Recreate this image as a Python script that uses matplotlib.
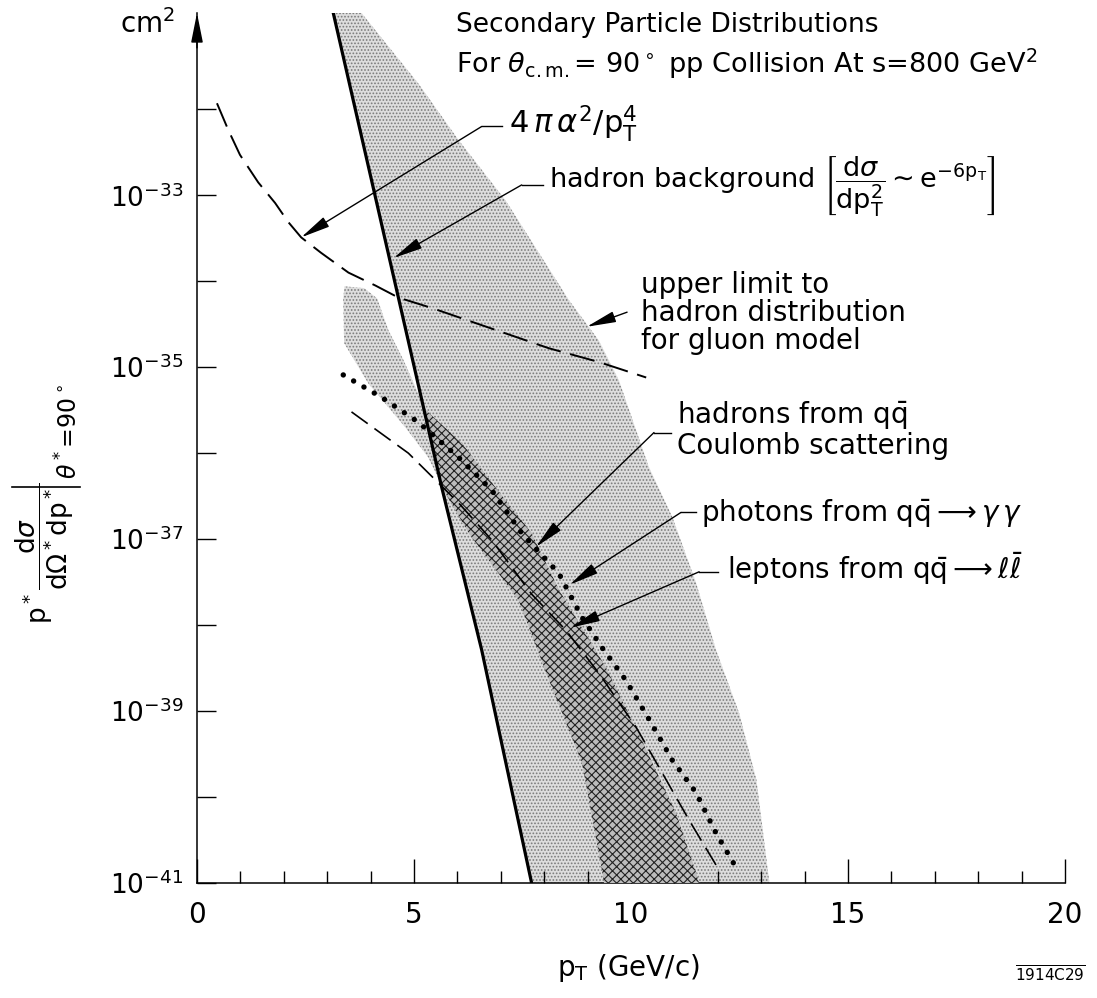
import matplotlib
matplotlib.use('Agg')
import matplotlib.pyplot as plt
import numpy as np
from matplotlib.lines import Line2D
from matplotlib.patches import Polygon
from matplotlib.ticker import FixedLocator, FixedFormatter, MultipleLocator

plt.rcParams['font.family'] = ['DejaVu Sans']
plt.rcParams['mathtext.fontset'] = 'dejavusans'
plt.rcParams['hatch.linewidth'] = 0.8

# ---- curves: p_T in GeV/c, cross section as log10(cm^2) ----
# 4 pi alpha^2 / p_T^4 (long dashes)
point_pt = [0.46, 0.72, 0.99, 1.41, 1.80, 2.10, 2.40, 2.86, 3.49, 4.11, 4.64, 5.40, 6.61,
            8.11, 9.26, 10.35]
point_log = [-31.93, -32.24, -32.53, -32.85, -33.09, -33.31, -33.49, -33.67, -33.90, -34.05,
             -34.19, -34.31, -34.52, -34.78, -34.94, -35.12]

# hadron background ~ exp(-6 p_T) (solid)
bkg_pt = [3.14, 4.06, 4.64, 5.64, 6.56, 7.71]
bkg_log = [-30.88, -32.91, -34.19, -36.40, -38.29, -41.0]

# photons from q qbar -> gamma gamma (dotted)
phot_pt = [3.37, 4.25, 5.10, 6.03, 6.79, 7.48, 8.34, 8.87, 9.33, 9.88, 10.42, 10.95, 11.50, 11.96, 12.49]
phot_log = [-35.09, -35.35, -35.64, -36.05, -36.43, -36.93, -37.40, -37.91, -38.26, -38.64,
            -39.10, -39.57, -39.95, -40.42, -40.88]

# leptons from q qbar -> l lbar (short dashes)
lep_pt = [3.56, 4.87, 6.03, 6.79, 7.71, 8.50, 9.26, 10.12, 10.72, 11.34, 12.03]
lep_log = [-35.52, -36.00, -36.58, -37.01, -37.64, -38.06, -38.56, -39.19, -39.72, -40.27, -40.85]

# upper limit for gluon model: band between background line and this edge
gluon_hi_pt = [3.79, 5.10, 6.03, 7.11, 8.57, 9.26, 9.72, 10.41, 10.95, 11.50, 11.96, 12.49, 12.89, 13.19]
gluon_hi_log = [-30.88, -31.70, -32.36, -33.06, -34.22, -34.69, -35.15, -36.16, -36.74, -37.51,
                -38.29, -39.02, -39.80, -41.0]

# hadrons from q qbar Coulomb scattering: lower / upper edges
qq_lo_pt = [3.40, 3.37, 3.39, 3.95, 4.80, 5.33, 5.73, 6.26, 6.95, 7.41, 8.11, 8.87, 9.33, 9.38]
qq_lo_log = [-34.06, -34.20, -34.72, -35.19, -35.70, -36.05, -36.47, -36.93, -37.40, -37.71,
             -38.64, -39.60, -40.85, -41.0]
qq_hi_pt = [3.85, 4.15, 4.41, 4.76, 5.27, 6.10, 6.88, 7.71, 8.34, 9.42, 10.25, 11.04, 11.50, 11.57]
qq_hi_log = [-34.08, -34.20, -34.57, -34.92, -35.50, -35.88, -36.40, -36.93, -37.59, -38.49,
             -39.34, -40.19, -40.88, -41.0]

ytick_exp = list(range(-41, -31))
xticks = [0, 5, 10, 15, 20]


def cs(v):
    return 10.0 ** np.asarray(v)


W, H = 1097, 998
fig = plt.figure(figsize=(W / 100, H / 100), dpi=100)
ax = fig.add_axes([197 / W, (H - 883) / H, (1065 - 197) / W, (883 - 13) / H])
ax.set_yscale('log')
ax.set_xlim(0, 20)
ax.set_ylim(1e-41, 10 ** -30.88)

# bands
gluon_xy = np.column_stack([bkg_pt + gluon_hi_pt[::-1], cs(bkg_log + gluon_hi_log[::-1])])
gluon = Polygon(gluon_xy, closed=True, facecolor='#dddddd', edgecolor='#7a7a7a',
                hatch='.....', lw=0, zorder=1)
ax.add_patch(gluon)

qq_xy = np.column_stack([qq_lo_pt + qq_hi_pt[::-1], cs(qq_lo_log + qq_hi_log[::-1])])
qq = Polygon(qq_xy, closed=True, facecolor='#dddddd', edgecolor='#7a7a7a',
             hatch='.....', lw=0, zorder=2)
ax.add_patch(qq)
overlap = Polygon(qq_xy, closed=True, facecolor='#bcbcbc', edgecolor='#222222',
                  hatch='xxxx', lw=0, zorder=3)
ax.add_patch(overlap)
overlap.set_clip_path(gluon)

# curves
ax.plot(bkg_pt, cs(bkg_log), color='k', lw=2.3, zorder=5)
ax.plot(point_pt, cs(point_log), color='k', lw=1.4, ls=(0, (13, 5)), zorder=5)
ax.plot(lep_pt, cs(lep_log), color='k', lw=1.2, ls=(0, (12, 5)), zorder=5)
ax.plot(phot_pt, cs(phot_log), color='k', lw=3.9, ls=(0, (0.01, 2.2)),
        dash_capstyle='round', zorder=6)

# axes
for s in ('top', 'right'):
    ax.spines[s].set_visible(False)
for s in ('left', 'bottom'):
    ax.spines[s].set_linewidth(1.1)
ax.annotate('', xy=(0, 1.0), xytext=(0, 0.96), xycoords='axes fraction',
            arrowprops=dict(arrowstyle='-|>,head_length=1.0,head_width=0.2', lw=1.1,
                            color='k', shrinkA=0, shrinkB=0, mutation_scale=18))

ax.yaxis.set_major_locator(FixedLocator(cs(ytick_exp)))
ax.yaxis.set_minor_locator(FixedLocator([]))
ax.yaxis.set_major_formatter(FixedFormatter(
    [r'$10^{%d}$' % e if e % 2 else '' for e in ytick_exp]))
ax.xaxis.set_major_locator(FixedLocator(xticks))
ax.xaxis.set_minor_locator(MultipleLocator(1))
ax.xaxis.set_major_formatter(FixedFormatter([str(t) for t in xticks]))
ax.tick_params(axis='y', which='major', direction='in', length=14, width=1, pad=10, labelsize=19)
ax.tick_params(axis='x', which='major', direction='in', length=17, width=1, pad=13, labelsize=20)
ax.tick_params(axis='x', which='minor', direction='in', length=9, width=1)

ax.set_xlabel(r'p$_\mathrm{T}$ (GeV/c)', fontsize=20)
ax.xaxis.set_label_coords(0.497, -0.098)
ax.xaxis.label.set_va('center')

# y label: p* dsigma/(dOmega* dp*) evaluated at theta* = 90 deg
ax.set_ylabel(r'$\mathrm{p}^*\dfrac{\mathrm{d}\sigma}{\mathrm{d}\Omega^*\mathrm{dp}^*}$', fontsize=19)
ax.yaxis.set_label_coords((45 - 197) / 868, (883 - 553) / 870)
ax.yaxis.label.set_va('center')
fig.add_artist(Line2D([12 / W, 80 / W], [1 - 487 / H] * 2, transform=fig.transFigure,
                      color='k', lw=1.2))
fig.text(69 / W, 1 - 432 / H, r'$\theta^*$=90$^\circ$', fontsize=17, rotation=90,
         ha='center', va='center')

fig.text(175 / W, 1 - 24 / H, r'cm$^2$', fontsize=20, ha='right', va='center')
fig.text(1050 / W, 1 - 975 / H, r'$\overline{\mathrm{1914C29}}$', fontsize=11, ha='center', va='center')

# title
ax.text(5.96, 10 ** -31.02, 'Secondary Particle Distributions', fontsize=19, va='center')
ax.text(5.96, 10 ** -31.47,
        r'For $\theta_{\mathrm{c.m.}}$= 90$^\circ$ pp Collision At s=800 GeV$^2$',
        fontsize=19.5, va='center')

arrow_kw = dict(arrowstyle='-|>,head_length=0.9,head_width=0.17', lw=1.0, color='k',
                shrinkA=0, shrinkB=0, mutation_scale=20)


def leader(text, tx, ty, ex, ey, px, py, hx=None, **kw):
    """Label at (tx, ty) with a leader from elbow (ex, ey) to the tip (px, py)."""
    ax.text(tx, 10 ** ty, text, va='center', zorder=8, **kw)
    if hx is not None:
        ax.plot([ex, hx], cs([ey, ey]), color='k', lw=1.0, zorder=7)
    ax.annotate('', xy=(px, 10 ** py), xytext=(ex, 10 ** ey),
                arrowprops=arrow_kw, zorder=7)


leader(r'$4\,\pi\,\alpha^2/\mathrm{p}_\mathrm{T}^4$', 7.18, -32.17, 6.56, -32.20, 2.40, -33.49,
       hx=7.02, fontsize=22)
leader(r'hadron background $\left[\dfrac{\mathrm{d}\sigma}{\mathrm{dp}_\mathrm{T}^2}\sim'
       r'\mathrm{e}^{-6\mathrm{p}_\mathrm{T}}\right]$',
       8.11, -32.90, 7.48, -32.88, 4.53, -33.73, hx=7.98, fontsize=19.5)
ax.text(10.23, 10 ** -34.37, 'upper limit to\nhadron distribution\nfor gluon model',
        fontsize=20, va='center', linespacing=1.0, zorder=8)
ax.annotate('', xy=(8.98, 10 ** -34.53), xytext=(9.91, 10 ** -34.36),
            arrowprops=arrow_kw, zorder=7)
ax.text(11.06, 10 ** -35.73, 'hadrons from $\\mathrm{q\\bar{q}}$\nCoulomb scattering',
        fontsize=20, va='center', linespacing=1.05, zorder=8)
ax.plot([10.53, 10.92], cs([-35.76, -35.76]), color='k', lw=1.0, zorder=7)
ax.annotate('', xy=(7.81, 10 ** -37.09), xytext=(10.53, 10 ** -35.76),
            arrowprops=arrow_kw, zorder=7)
leader(r'photons from $\mathrm{q\bar{q}}\longrightarrow\gamma\,\gamma$', 11.62, -36.70,
       11.15, -36.69, 8.59, -37.53, hx=11.50, fontsize=20)
leader(r'leptons from $\mathrm{q\bar{q}}\longrightarrow\ell\bar{\ell}$', 12.22, -37.34,
       11.57, -37.38, 8.61, -38.03, hx=12.0, fontsize=20)

fig.savefig('out.png', dpi=100, facecolor='white')
